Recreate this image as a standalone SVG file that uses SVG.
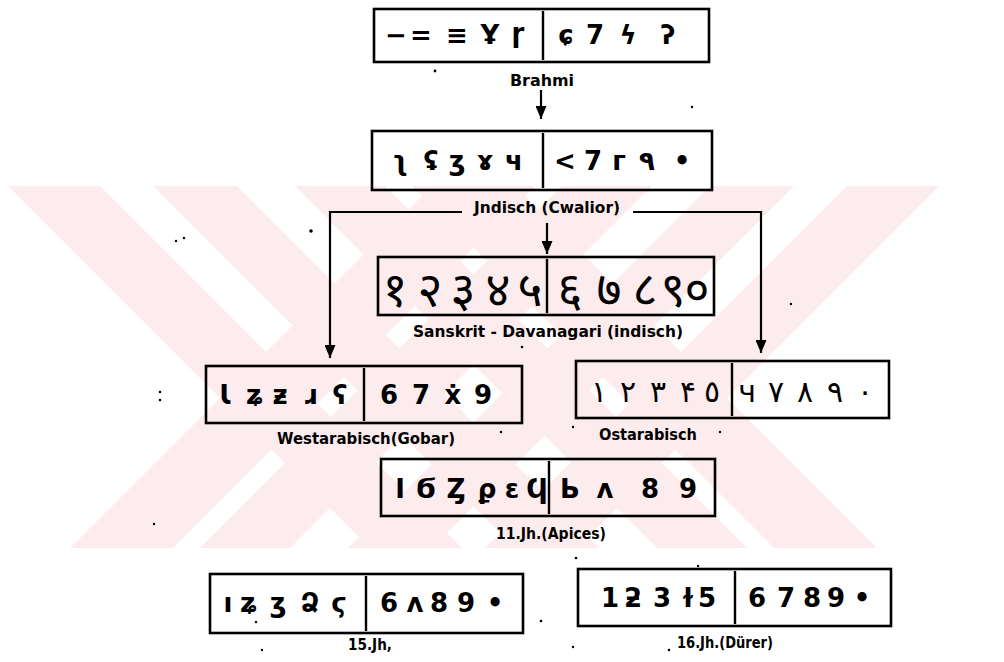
<svg xmlns="http://www.w3.org/2000/svg" width="1004" height="662" viewBox="0 0 1004 662">
<style>
.wm{fill:#fdecee}
.box{fill:none;stroke:#000;stroke-width:2.6}
.dv{stroke:#000;stroke-width:2.4}
.con{fill:none;stroke:#000;stroke-width:2.2}
.lbl{font-family:"DejaVu Sans Condensed","DejaVu Sans",sans-serif;font-weight:bold;font-size:16px;text-anchor:middle;fill:#000}
.g{font-family:"DejaVu Sans","Noto Sans",sans-serif;font-weight:bold;font-size:26px;text-anchor:middle;fill:#000}
.ar{font-family:"DejaVu Sans","Noto Sans",sans-serif;font-size:30px;text-anchor:middle;fill:#000}
.dev{font-family:"Noto Sans","DejaVu Sans",sans-serif;font-size:48px;text-anchor:middle;fill:#000}
.sp{fill:#000}
</style>
<defs>
<marker id="ah" markerUnits="userSpaceOnUse" markerWidth="13" markerHeight="11" viewBox="0 0 13 11" refX="13" refY="5.5" orient="auto">
<path d="M0,0 L13,5.5 L0,11 Z" fill="#000"/>
</marker>
</defs>
<rect width="1004" height="662" fill="#fff"/>
<g id="watermark">
<polygon class="wm" points="8,186 100,186 462,548 370,548"/>
<polygon class="wm" points="153,186 237,186 599,548 515,548"/>
<polygon class="wm" points="70,548 173,548 535,186 432,186"/>
<polygon class="wm" points="200,548 290,548 652,186 562,186"/>
<polygon class="wm" points="847,186 939,186 577,548 485,548"/>
<polygon class="wm" points="710,186 794,186 432,548 348,548"/>
<polygon class="wm" points="774,548 877,548 515,186 412,186"/>
<polygon class="wm" points="657,548 747,548 385,186 295,186"/>
</g>
<g id="connectors">
<line class="con" x1="541" y1="90" x2="541" y2="119" marker-end="url(#ah)"/>
<polyline class="con" points="462,212 330,212 330,358" marker-end="url(#ah)"/>
<polyline class="con" points="633,212 761,212 761,353" marker-end="url(#ah)"/>
<line class="con" x1="547" y1="223" x2="547" y2="254" marker-end="url(#ah)"/>
</g>
<g id="brahmi">
<rect class="box" x="374" y="9" width="335" height="53"/>
<line class="dv" x1="543" y1="11" x2="543" y2="60"/>
<text class="g" x="396" y="44">−</text><text class="g" x="421" y="44">=</text><text class="g" x="457" y="44">≡</text><text class="g" x="490" y="44">Ұ</text><text class="g" x="518" y="42">ɼ</text>
<text class="g" x="566" y="44">ɕ</text><text class="g" x="595" y="44">7</text><text class="g" x="628" y="44">ϟ</text><text class="g" x="668" y="44">ʔ</text>
<text class="lbl" x="542" y="86" textLength="64" lengthAdjust="spacingAndGlyphs">Brahmi</text>
</g>
<g id="indisch">
<rect class="box" x="372" y="131" width="340" height="59"/>
<line class="dv" x1="543" y1="133" x2="543" y2="188"/>
<text class="g" x="400" y="170">ʅ</text><text class="g" x="431" y="170">ʢ</text><text class="g" x="457" y="170">ʒ</text><text class="g" x="485" y="170">ɤ</text><text class="g" x="514" y="170">ч</text>
<text class="g" x="565" y="170">&lt;</text><text class="g" x="593" y="170">7</text><text class="g" x="619" y="170">г</text><text class="g" x="647" y="170">٩</text><text class="g" x="682" y="170">•</text>
<text class="lbl" x="547" y="213" textLength="146" lengthAdjust="spacingAndGlyphs">Jndisch (Cwalior)</text>
</g>
<g id="sanskrit">
<rect class="box" x="378" y="257" width="336" height="58"/>
<line class="dv" x1="547" y1="259" x2="547" y2="313"/>
<text class="dev" x="395" y="306">१</text><text class="dev" x="430" y="306">२</text><text class="dev" x="463" y="306">३</text><text class="dev" x="498" y="306">४</text><text class="dev" x="530" y="306">५</text>
<text class="dev" x="570" y="306">६</text><text class="dev" x="609" y="306">७</text><text class="dev" x="645" y="306">८</text><text class="dev" x="673" y="306">९</text><text class="dev" x="697" y="306">०</text>
<text class="lbl" x="548" y="337" textLength="270" lengthAdjust="spacingAndGlyphs">Sanskrit - Davanagari (indisch)</text>
</g>
<g id="westarabisch">
<rect class="box" x="206" y="366" width="316" height="57"/>
<line class="dv" x1="364" y1="368" x2="364" y2="421"/>
<text class="g" x="225" y="404">Ɩ</text><text class="g" x="255" y="404">ʑ</text><text class="g" x="280" y="404">ƶ</text><text class="g" x="310" y="404">ɹ</text><text class="g" x="340" y="404">ʕ</text>
<text class="g" x="389" y="404">6</text><text class="g" x="421" y="404">7</text><text class="g" x="453" y="404">ẋ</text><text class="g" x="483" y="404">9</text>
<text class="lbl" x="366" y="444" textLength="178" lengthAdjust="spacingAndGlyphs">Westarabisch(Gobar)</text>
</g>
<g id="ostarabisch">
<rect class="box" x="576" y="361" width="313" height="57"/>
<line class="dv" x1="732" y1="363" x2="732" y2="416"/>
<text class="ar" x="599" y="402">١</text><text class="ar" x="628" y="402">٢</text><text class="ar" x="658" y="402">٣</text><text class="ar" x="688" y="402">۴</text><text class="ar" x="712" y="402">٥</text>
<text class="ar" x="747" y="402">ч</text><text class="ar" x="776" y="402">٧</text><text class="ar" x="805" y="402">٨</text><text class="ar" x="835" y="402">٩</text><text class="ar" x="865" y="402">٠</text>
<text class="lbl" x="648" y="440" textLength="98" lengthAdjust="spacingAndGlyphs">Ostarabisch</text>
</g>
<g id="apices">
<rect class="box" x="381" y="459" width="334" height="57"/>
<line class="dv" x1="549" y1="461" x2="549" y2="514"/>
<text class="g" x="400" y="498">I</text><text class="g" x="426" y="498">Ϭ</text><text class="g" x="456" y="498">Ȥ</text><text class="g" x="487" y="498">ϼ</text><text class="g" x="512" y="498">ɛ</text><text class="g" x="537" y="498">Ϥ</text>
<text class="g" x="570" y="498">Ь</text><text class="g" x="605" y="498">ʌ</text><text class="g" x="650" y="498">8</text><text class="g" x="688" y="498">9</text>
<text class="lbl" x="551" y="539" textLength="110" lengthAdjust="spacingAndGlyphs">11.Jh.(Apices)</text>
</g>
<g id="jh15">
<rect class="box" x="210" y="574" width="313" height="59"/>
<line class="dv" x1="366" y1="576" x2="366" y2="631"/>
<text class="g" x="228" y="612">ı</text><text class="g" x="249" y="612">ʑ</text><text class="g" x="278" y="612">ʒ</text><text class="g" x="310" y="612">Ձ</text><text class="g" x="339" y="612">ϛ</text>
<text class="g" x="389" y="612">6</text><text class="g" x="415" y="612">ʌ</text><text class="g" x="439" y="612">8</text><text class="g" x="466" y="612">9</text><text class="g" x="495" y="612">•</text>
<text class="lbl" x="370" y="650" textLength="44" lengthAdjust="spacingAndGlyphs">15.Jh,</text>
</g>
<g id="jh16">
<rect class="box" x="578" y="569" width="313" height="57"/>
<line class="dv" x1="735" y1="571" x2="735" y2="624"/>
<text class="g" x="610" y="607">1</text><text class="g" x="633" y="607">ƻ</text><text class="g" x="662" y="607">3</text><text class="g" x="688" y="607">ɫ</text><text class="g" x="707" y="607">5</text>
<text class="g" x="757" y="607">6</text><text class="g" x="786" y="607">7</text><text class="g" x="812" y="607">8</text><text class="g" x="836" y="607">9</text><text class="g" x="862" y="607">•</text>
<text class="lbl" x="725" y="648" textLength="96" lengthAdjust="spacingAndGlyphs">16.Jh.(Dürer)</text>
</g>
<g id="specks">
<circle class="sp" cx="435" cy="71" r="1.4"/><circle class="sp" cx="692" cy="107" r="1.2"/>
<circle class="sp" cx="311" cy="231" r="1.8"/><circle class="sp" cx="176" cy="241" r="1.2"/><circle class="sp" cx="184" cy="238" r="1.2"/>
<circle class="sp" cx="791" cy="304" r="1.2"/><circle class="sp" cx="160" cy="392" r="1.3"/><circle class="sp" cx="160" cy="400" r="1.3"/>
<circle class="sp" cx="522" cy="347" r="1.3"/><circle class="sp" cx="501" cy="432" r="1.2"/><circle class="sp" cx="573" cy="427" r="1.2"/>
<circle class="sp" cx="720" cy="432" r="1.2"/><circle class="sp" cx="154" cy="524" r="1.2"/><circle class="sp" cx="576" cy="558" r="1.3"/>
<circle class="sp" cx="698" cy="566" r="1.2"/><circle class="sp" cx="541" cy="621" r="1.3"/><circle class="sp" cx="256" cy="622" r="1.2"/>
<circle class="sp" cx="262" cy="650" r="1.2"/><circle class="sp" cx="573" cy="647" r="1.2"/><circle class="sp" cx="669" cy="650" r="1.3"/>
</g>
</svg>
